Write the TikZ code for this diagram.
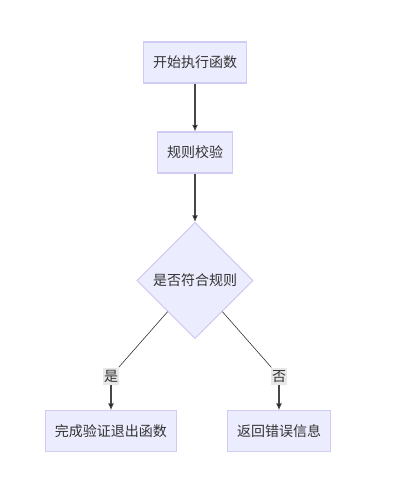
\documentclass[tikz,border=0pt]{standalone}
\usepackage{fontspec}
\setmainfont{Noto Sans CJK SC}
\usepackage{tikz}
\usetikzlibrary{arrows.meta, positioning, shapes.geometric}
\definecolor{boxfill}{RGB}{236,236,255}
\definecolor{boxline}{RGB}{208,204,244}
\definecolor{lblfill}{RGB}{232,232,232}
\definecolor{ink}{RGB}{51,51,51}
\tikzset{>={Latex[width=4.5pt,length=5pt]}}
\tikzset{
  box/.style = {draw=boxline, fill=boxfill, line width=0.8pt, text=ink,
    inner xsep=7.1pt, minimum height=30.75pt,
    font=\fontsize{10.5pt}{12pt}\selectfont},
  decision/.style = {diamond, draw=boxline, fill=boxfill, line width=0.8pt, text=ink,
    inner sep=0pt, minimum width=87pt, minimum height=87pt,
    font=\fontsize{10.5pt}{12pt}\selectfont},
  lbl/.style = {fill=lblfill, text=ink, inner xsep=0.5pt, inner ysep=1.8pt,
    font=\fontsize{10.5pt}{12pt}\selectfont},
}

\begin{document}
\begin{tikzpicture}[x=0.75pt, y=0.75pt, on grid, node distance = 67.5pt]
		\useasboundingbox (0,0) rectangle (414,-486);
		\node (start) [box] at (195,-62.5) {开始执行函数};
		\node (check) [box, below = of start] {规则校验};
		\node (cond) [decision, below = 96pt of check] {是否符合规则};
		\node (done) [box, below left = 113pt and 63pt of cond] {完成验证退出函数};
		\node (err) [box, below right = 113pt and 63pt of cond] {返回错误信息};
		\node (yes) [lbl, above = 41.3pt of done] {是};
		\node (no) [lbl, above = 41.3pt of err] {否};
		\path[->, draw=ink!90, line width=0.8pt]
			(start) edge (check)
			(check) edge (cond)
			(yes) edge (done)
			(no) edge (err);
		\path[draw=ink, line width=0.45pt]
			(cond) edge (yes)
			(cond) edge (no);
	\end{tikzpicture}
\end{document}
